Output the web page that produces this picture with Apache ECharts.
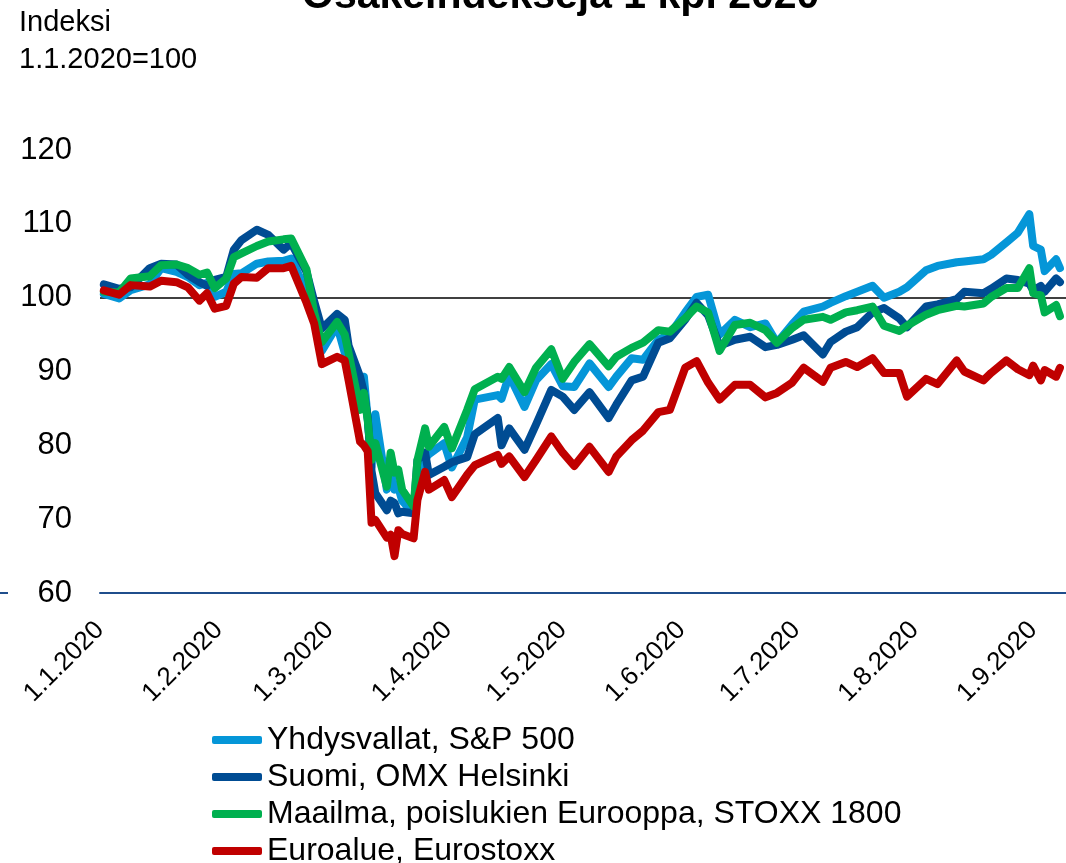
<!DOCTYPE html>
<html>
<head>
<meta charset="utf-8">
<script src="https://cdn.jsdelivr.net/npm/echarts@6/dist/echarts.min.js"></script>
<style>
  html, body { margin: 0; padding: 0; background: #fff; }
  #chart { width: 1066px; height: 863px; }
</style>
</head>
<body>
<div id="chart"></div>
<script>
// päivämäärät (1.1.2020 = 100)
var dates = [
  '2020-01-02','2020-01-06','2020-01-09','2020-01-14','2020-01-17','2020-01-21','2020-01-24','2020-01-27','2020-01-29','2020-01-31',
  '2020-02-03','2020-02-05','2020-02-07','2020-02-11','2020-02-14','2020-02-18','2020-02-20','2020-02-24','2020-02-26','2020-02-28',
  '2020-03-03','2020-03-05','2020-03-06','2020-03-09','2020-03-10','2020-03-11','2020-03-12','2020-03-13','2020-03-16','2020-03-17',
  '2020-03-18','2020-03-19','2020-03-20','2020-03-23','2020-03-24','2020-03-26','2020-03-27','2020-03-31','2020-04-02','2020-04-06',
  '2020-04-08','2020-04-14','2020-04-15','2020-04-17','2020-04-21','2020-04-24','2020-04-28','2020-05-01','2020-05-04','2020-05-08',
  '2020-05-13','2020-05-15','2020-05-19','2020-05-22','2020-05-26','2020-05-29','2020-06-02','2020-06-05','2020-06-08','2020-06-11',
  '2020-06-15','2020-06-19','2020-06-23','2020-06-26','2020-06-30','2020-07-03','2020-07-08','2020-07-10','2020-07-14','2020-07-17',
  '2020-07-21','2020-07-24','2020-07-28','2020-07-30','2020-08-04','2020-08-07','2020-08-12','2020-08-14','2020-08-19','2020-08-21',
  '2020-08-25','2020-08-28','2020-08-31','2020-09-01','2020-09-03','2020-09-04','2020-09-07','2020-09-08'
];

var sp500 = [
  100.5, 99.9, 101.0, 101.8, 104.0, 103.5, 102.8, 101.7, 102.0, 100.1,
  100.8, 103.2, 103.3, 104.6, 104.9, 105.0, 105.3, 100.8, 97.5, 92.8,
  96.2, 92.5, 91.6, 86.0, 89.3, 83.6, 77.1, 84.2, 74.0, 76.8,
  74.0, 74.3, 72.5, 70.8, 74.4, 78.2, 78.8, 80.3, 77.0, 81.1,
  86.2, 86.8, 86.3, 89.5, 85.2, 88.8, 91.0, 88.0, 87.9, 91.1,
  87.9, 89.3, 91.8, 91.6, 94.3, 95.0, 98.0, 100.1, 100.4, 95.0,
  97.0, 96.0, 96.5, 93.9, 96.4, 98.1, 98.8, 99.3, 100.2, 100.8,
  101.6, 100.0, 100.8, 101.4, 103.7, 104.3, 104.8, 104.9, 105.2, 105.8,
  107.5, 108.8, 111.3, 107.0, 106.5, 103.6, 105.2, 104.0
];

var omx = [
  101.8, 101.2, 101.4, 104.0, 104.6, 104.5, 103.1, 102.1, 101.6, 102.4,
  102.8, 106.5, 107.8, 109.2, 108.5, 106.5, 107.4, 103.5, 99.5, 95.8,
  97.8, 97.0, 93.5, 89.3, 87.2, 83.8, 76.5, 73.5, 71.2, 72.5,
  72.2, 70.8, 71.0, 70.8, 78.0, 79.0, 76.0, 77.1, 77.7, 78.4,
  81.5, 83.7, 80.0, 82.3, 79.4, 82.8, 87.5, 86.6, 84.8, 87.2,
  83.7, 85.5, 88.8, 89.3, 93.9, 94.5, 97.0, 99.3, 97.6, 93.5,
  94.3, 94.7, 93.3, 93.6, 94.3, 94.9, 92.3, 94.0, 95.4, 96.0,
  98.0, 98.6, 97.2, 96.0, 98.8, 99.1, 99.8, 100.8, 100.6, 101.2,
  102.6, 102.4, 101.9, 101.0, 101.6, 100.8, 102.6, 102.1
];

var stoxx1800 = [
  100.8, 100.7, 102.6, 102.9, 104.4, 104.5, 104.0, 103.1, 103.4, 101.3,
  102.6, 105.5, 106.0, 107.0, 107.6, 107.9, 108.0, 103.8, 98.0, 94.0,
  96.7, 95.0, 92.5, 84.8, 87.1, 83.4, 78.0, 80.3, 74.4, 79.0,
  76.3, 76.7, 74.0, 71.7, 78.0, 82.3, 79.8, 82.5, 79.6, 84.8,
  87.6, 89.3, 89.0, 90.6, 87.2, 90.5, 93.0, 89.0, 91.3, 93.7,
  90.7, 92.0, 93.2, 93.9, 95.6, 95.4, 97.2, 98.8, 98.0, 92.8,
  96.3, 96.6, 95.6, 93.9, 95.9, 97.0, 97.4, 97.0, 98.0, 98.3,
  98.8, 96.2, 95.5, 96.2, 97.7, 98.3, 98.9, 98.8, 99.2, 100.1,
  101.3, 101.3, 104.0, 100.6, 100.3, 98.0, 99.0, 97.5
];

var eurostoxx = [
  101.0, 100.4, 101.7, 101.5, 102.3, 102.1, 101.4, 99.6, 100.6, 98.5,
  98.9, 101.9, 102.8, 102.7, 104.0, 104.0, 104.3, 99.3, 96.5, 91.0,
  92.0, 91.5, 88.8, 80.5, 80.0, 79.2, 69.5, 69.9, 67.5, 67.9,
  65.0, 68.5, 68.0, 67.4, 72.6, 76.4, 74.0, 75.3, 73.0, 76.0,
  77.3, 78.7, 77.5, 78.5, 75.7, 78.0, 81.2, 79.0, 77.2, 79.8,
  76.4, 78.5, 80.7, 82.0, 84.5, 84.8, 90.5, 91.4, 88.5, 86.2,
  88.2, 88.2, 86.5, 87.1, 88.5, 90.5, 88.6, 90.5, 91.3, 90.6,
  91.8, 89.8, 89.8, 86.6, 89.0, 88.3, 91.5, 90.0, 88.8, 89.8,
  91.5, 90.3, 89.5, 90.8, 88.8, 90.2, 89.3, 90.5
];

var seriesNames = [
  'Yhdysvallat, S&P 500',
  'Suomi, OMX Helsinki',
  'Maailma, poislukien Eurooppa, STOXX 1800',
  'Euroalue, Eurostoxx'
];
var colors = ['#0596d8', '#004c93', '#00b04f', '#c00000'];

function toDate(s) {
  var p = s.split('-');
  return new Date(+p[0], +p[1] - 1, +p[2]).getTime();
}
function pairs(vals) {
  return dates.map(function (d, i) { return [toDate(d), vals[i]]; });
}

var font = "'Liberation Sans', Arial, sans-serif";

var chart = echarts.init(document.getElementById('chart'));
var allValues = [sp500, omx, stoxx1800, eurostoxx];

var series = allValues.map(function (vals, i) {
  var s = {
    name: seriesNames[i],
    type: 'line',
    data: pairs(vals),
    showSymbol: false,
    symbol: 'none',
    color: colors[i],
    lineStyle: { width: 8, color: colors[i], cap: 'round', join: 'round' },
    z: 3 + i
  };
  if (i === 0) {
    // vaakaviiva tasolla 100
    s.markLine = {
      silent: true,
      symbol: 'none',
      label: { show: false },
      lineStyle: { color: '#000', width: 1.5, type: 'solid' },
      data: [{ yAxis: 100 }],
      z: 2
    };
  }
  return s;
});

var option = {
  animation: false,
  textStyle: { fontFamily: font },
  title: [{
    text: 'Osakeindeksejä 1 kpl 2020',
    left: 297,
    top: -29,
    textStyle: { fontSize: 41, fontWeight: 'bold', color: '#000', fontFamily: font }
  }, {
    text: 'Indeksi\n1.1.2020=100',
    left: 14,
    top: -1,
    textStyle: { fontSize: 29, fontWeight: 'normal', color: '#000', lineHeight: 37, fontFamily: font }
  }],
  legend: {
    orient: 'vertical',
    left: 212,
    bottom: -4,
    padding: 0,
    itemWidth: 50,
    itemHeight: 8,
    itemGap: 5,
    icon: 'roundRect',
    textStyle: { fontSize: 32, color: '#000', lineHeight: 30, fontFamily: font },
    data: seriesNames
  },
  grid: { left: 100, right: 0, top: 150, bottom: 270 },
  xAxis: {
    type: 'time',
    min: toDate('2020-01-01'),
    max: toDate('2020-09-09') + 14 * 3600 * 1000,
    splitNumber: 9,
    axisLine: { show: true, lineStyle: { color: '#1f4e8c', width: 2 } },
    axisTick: { show: false },
    splitLine: { show: false },
    axisLabel: {
      rotate: 45,
      margin: 33,
      fontSize: 26,
      color: '#000',
      fontFamily: font,
      hideOverlap: false,
      formatter: function (val) {
        var d = new Date(val);
        if (d.getDate() !== 1) return '';
        return d.getDate() + '.' + (d.getMonth() + 1) + '.' + d.getFullYear();
      }
    }
  },
  yAxis: {
    type: 'value',
    min: 60,
    max: 120,
    interval: 10,
    axisLine: { show: false },
    axisTick: { show: false },
    splitLine: { show: false },
    axisLabel: { fontSize: 31, color: '#000', margin: 28, fontFamily: font }
  },
  graphic: [{
    type: 'line',
    shape: { x1: 0, y1: 593, x2: 8, y2: 593 },
    style: { stroke: '#1f4e8c', lineWidth: 2 }
  }],
  series: series
};

chart.setOption(option);
</script>
</body>
</html>
